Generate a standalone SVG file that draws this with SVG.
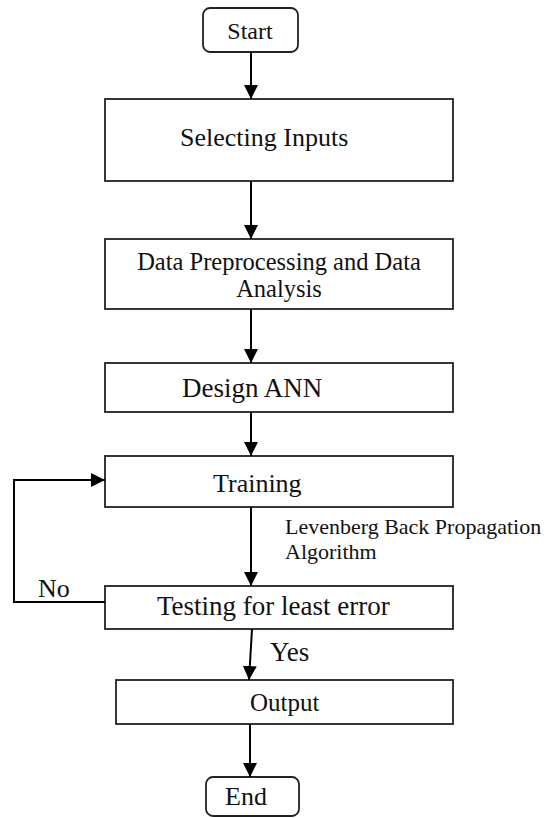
<svg xmlns="http://www.w3.org/2000/svg" width="552" height="818" viewBox="0 0 552 818">
<style>
  .box{fill:#fff;stroke:#222;stroke-width:1.8}
  .t{font-family:"Liberation Serif","Times New Roman",serif;fill:#111}
  .c{stroke:#000;stroke-width:2;fill:none}
</style>
<defs>
  <marker id="ah" markerUnits="userSpaceOnUse" markerWidth="16" markerHeight="16" refX="14" refY="7" orient="auto">
    <path d="M0,0 L14,7 L0,14 Z" fill="#000"/>
  </marker>
</defs>
<rect width="552" height="818" fill="#fff"/>
<g id="start">
  <rect class="box" x="203" y="8" width="95" height="44" rx="7"/>
  <text class="t" x="250" y="39" font-size="24" text-anchor="middle">Start</text>
</g>
<g id="selecting">
  <rect class="box" x="105" y="99" width="348" height="82"/>
  <text class="t" x="180" y="146" font-size="26">Selecting Inputs</text>
</g>
<g id="preprocessing">
  <rect class="box" x="105" y="239" width="348" height="70"/>
  <text class="t" x="279" y="270" font-size="24.5" text-anchor="middle">Data Preprocessing and Data</text>
  <text class="t" x="279" y="297" font-size="24.5" text-anchor="middle">Analysis</text>
</g>
<g id="design">
  <rect class="box" x="105" y="363" width="348" height="49"/>
  <text class="t" x="182" y="397" font-size="27">Design ANN</text>
</g>
<g id="training">
  <rect class="box" x="105" y="456" width="348" height="51"/>
  <text class="t" x="213" y="492" font-size="26">Training</text>
</g>
<g id="testing">
  <rect class="box" x="105" y="586" width="348" height="43"/>
  <text class="t" x="157" y="615" font-size="27">Testing for least error</text>
</g>
<g id="output">
  <rect class="box" x="116" y="680" width="337" height="44"/>
  <text class="t" x="250" y="711" font-size="25">Output</text>
</g>
<g id="end">
  <rect class="box" x="206" y="777" width="93" height="39" rx="7"/>
  <text class="t" x="225" y="805" font-size="26">End</text>
</g>
<g id="connectors">
  <line class="c" x1="251" y1="52" x2="251" y2="99" marker-end="url(#ah)"/>
  <line class="c" x1="251" y1="181" x2="251" y2="239" marker-end="url(#ah)"/>
  <line class="c" x1="251" y1="309" x2="251" y2="363" marker-end="url(#ah)"/>
  <line class="c" x1="251" y1="412" x2="251" y2="456" marker-end="url(#ah)"/>
  <line class="c" x1="251" y1="507" x2="251" y2="586" marker-end="url(#ah)"/>
  <polyline class="c" points="105,602 14,602 14,480 105,480" marker-end="url(#ah)"/>
  <line class="c" x1="252" y1="629" x2="249" y2="680" marker-end="url(#ah)"/>
  <line class="c" x1="250" y1="724" x2="250" y2="777" marker-end="url(#ah)"/>
  <text class="t" x="285" y="534" font-size="22">Levenberg Back Propagation</text>
  <text class="t" x="285" y="559" font-size="22">Algorithm</text>
  <text class="t" x="38" y="597" font-size="26">No</text>
  <text class="t" x="270" y="661" font-size="27">Yes</text>
</g>
</svg>
